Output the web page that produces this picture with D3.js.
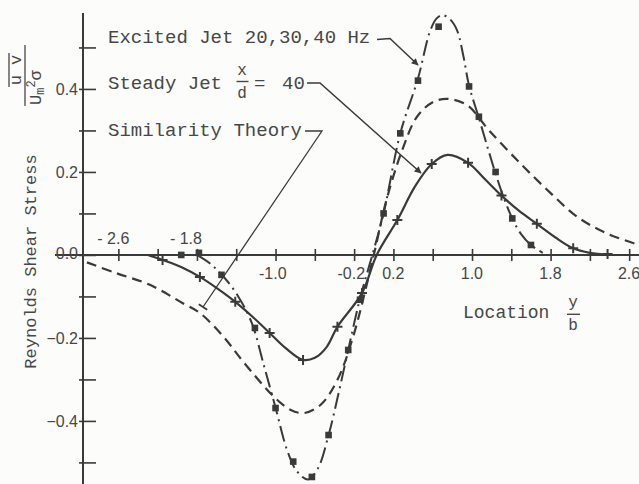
<!DOCTYPE html>
<html>
<head>
<meta charset="utf-8">
<script src="https://cdn.jsdelivr.net/npm/d3@7"></script>
<style>
  html, body { margin: 0; padding: 0; background: #fcfcfa; }
  svg { display: block; }
</style>
</head>
<body>
<svg id="chart" width="639" height="484"></svg>
<script>
// Similarity theory profile (dashed line)
const similarityCurve = [
  [-2.92, -0.018], [-2.62, -0.044], [-2.28, -0.072], [-1.94, -0.117], [-1.77, -0.140],
  [-1.53, -0.197], [-1.33, -0.257], [-1.02, -0.341], [-0.85, -0.373], [-0.71, -0.381],
  [-0.54, -0.361], [-0.37, -0.301], [-0.21, -0.197], [0.00, 0.000], [0.13, 0.133],
  [0.29, 0.253], [0.44, 0.333], [0.60, 0.368], [0.75, 0.376], [0.95, 0.361],
  [1.17, 0.301], [1.49, 0.221], [1.80, 0.149], [2.07, 0.092], [2.37, 0.052], [2.70, 0.024]
];

// Steady jet, x/d = 40: faired line and measured points
const steadyCurve = [
  [-2.30, 0.000], [-2.15, -0.012], [-1.95, -0.030], [-1.77, -0.053], [-1.58, -0.083],
  [-1.41, -0.113], [-1.22, -0.152], [-1.06, -0.188], [-0.90, -0.224], [-0.72, -0.253],
  [-0.60, -0.248], [-0.48, -0.222], [-0.37, -0.173], [-0.12, -0.092], [0.03, 0.000],
  [0.24, 0.084], [0.42, 0.165], [0.59, 0.219], [0.75, 0.241], [0.96, 0.222],
  [1.13, 0.183], [1.30, 0.143], [1.48, 0.106], [1.66, 0.075], [1.85, 0.042],
  [2.03, 0.016], [2.20, 0.005], [2.39, 0.000]
];
const steadyPoints = [
  [-2.15, -0.012], [-1.77, -0.053], [-1.41, -0.113], [-1.06, -0.188], [-0.72, -0.253],
  [-0.37, -0.173], [-0.12, -0.092], [0.24, 0.084], [0.59, 0.219], [0.96, 0.222],
  [1.30, 0.143], [1.66, 0.075], [2.03, 0.016], [2.38, 0.002]
];

// Excited jet 20, 30, 40 Hz: faired line and measured points
const excitedCurve = [
  [-1.80, 0.000], [-1.66, -0.022], [-1.52, -0.055], [-1.38, -0.100], [-1.24, -0.165],
  [-1.12, -0.265], [-1.00, -0.368], [-0.88, -0.472], [-0.78, -0.522], [-0.67, -0.541],
  [-0.57, -0.515], [-0.46, -0.434], [-0.36, -0.335], [-0.26, -0.229], [-0.14, -0.105],
  [0.00, 0.012], [0.10, 0.100], [0.27, 0.293], [0.45, 0.425], [0.57, 0.537],
  [0.64, 0.570], [0.70, 0.578], [0.78, 0.567], [0.85, 0.540], [0.91, 0.482],
  [0.97, 0.408], [1.07, 0.330], [1.17, 0.250], [1.24, 0.196], [1.32, 0.140],
  [1.41, 0.088], [1.50, 0.050], [1.60, 0.024], [1.72, 0.005]
];
const excitedPoints = [
  [-1.96, 0.000], [-1.78, 0.005], [-1.55, -0.048], [-1.21, -0.176], [-1.00, -0.369],
  [-0.82, -0.498], [-0.63, -0.535], [-0.46, -0.434], [-0.26, -0.229], [-0.14, -0.108],
  [0.10, 0.100], [0.27, 0.293], [0.45, 0.420], [0.66, 0.550], [0.97, 0.406],
  [1.07, 0.333], [1.24, 0.200], [1.41, 0.088], [1.60, 0.024]
];

// Axis ticks and labels
const xTickValues = [-2.6, -2.2, -1.8, -1.4, -1.0, -0.6, -0.2, 0.2, 0.6, 1.0, 1.4, 1.8, 2.2, 2.6];
const xLabelsAbove = [-2.6, -1.8];
const xLabelsBelow = [-1.0, -0.2, 0.2, 1.0, 1.8, 2.6];
const yTickValues = [-0.5, -0.4, -0.3, -0.2, -0.1, 0.0, 0.1, 0.2, 0.3, 0.4, 0.5];
const yLabelValues = [-0.4, -0.2, 0.0, 0.2, 0.4];

const ink = "#3a3a3a";
const textInk = "#474747";
const mono = "'Liberation Mono', 'Courier New', monospace";
const sans = "'Liberation Sans', Arial, sans-serif";

const svg = d3.select("#chart");

const x = d3.scaleLinear().domain([-2.96, 2.70]).range([83, 639]);
const y = d3.scaleLinear().domain([-0.552, 0.583]).range([484, 13]);
const x0 = x.range()[0];
const yZero = y(0);

// arrowhead for leader lines
svg.append("defs").append("marker")
  .attr("id", "arrow")
  .attr("viewBox", "0 0 10 10")
  .attr("refX", 9).attr("refY", 5)
  .attr("markerWidth", 9).attr("markerHeight", 7)
  .attr("markerUnits", "userSpaceOnUse")
  .attr("orient", "auto")
  .append("path").attr("d", "M0,0 L10,5 L0,10 Z").attr("fill", ink);

// ---- axes ----
// horizontal zero line
svg.append("line")
  .attr("x1", 55).attr("x2", x.range()[1])
  .attr("y1", yZero).attr("y2", yZero)
  .attr("stroke", ink).attr("stroke-width", 2);

// vertical axis line
svg.append("line")
  .attr("x1", x0).attr("x2", x0)
  .attr("y1", y.range()[1]).attr("y2", y.range()[0])
  .attr("stroke", ink).attr("stroke-width", 2);

// x ticks crossing the zero line
svg.append("g")
  .attr("transform", `translate(0,${yZero - 6})`)
  .call(d3.axisBottom(x).tickValues(xTickValues).tickSize(12).tickFormat(""))
  .call(g => g.select(".domain").remove())
  .selectAll("line").attr("stroke", ink).attr("stroke-width", 1.6);

// y ticks
svg.append("g")
  .attr("transform", `translate(${x0 - 4},0)`)
  .call(d3.axisRight(y).tickValues(yTickValues).tickSize(17).tickFormat(""))
  .call(g => g.select(".domain").remove())
  .selectAll("line").attr("stroke", ink).attr("stroke-width", 1.6);

// y labels
const yFmt = d => (d < 0 ? "\u2212" : "") + Math.abs(d).toFixed(1);
svg.append("g")
  .attr("transform", `translate(78,0)`)
  .call(d3.axisLeft(y).tickValues(yLabelValues).tickSize(0).tickPadding(0).tickFormat(yFmt))
  .call(g => g.select(".domain").remove())
  .call(g => g.selectAll("text")
    .attr("fill", textInk)
    .style("font-family", sans).style("font-size", "16px")
    .attr("dy", d => d === 0 ? "0.22em" : "0.35em"));

// x labels: magnitude centred on the tick, sign hanging to the left
const xNum = 11;
svg.append("g").selectAll("text")
  .data(xLabelsAbove).join("text")
  .attr("x", d => x(d) + xNum - (d === -1.8 ? 6 : 0)).attr("y", yZero - 11)
  .attr("text-anchor", "end")
  .attr("fill", textInk)
  .style("font-family", sans).style("font-size", "16px")
  .text(d => "- " + Math.abs(d).toFixed(1));
svg.append("g").selectAll("text")
  .data(xLabelsBelow).join("text")
  .attr("x", d => x(d) + xNum).attr("y", yZero + 24)
  .attr("text-anchor", "end")
  .attr("fill", textInk)
  .style("font-family", sans).style("font-size", "16px")
  .text(d => (d < 0 ? "-" : "") + Math.abs(d).toFixed(1));

// ---- curves ----
const line = d3.line()
  .x(d => x(d[0])).y(d => y(d[1]))
  .curve(d3.curveCatmullRom.alpha(0.5));

svg.append("path").datum(similarityCurve)
  .attr("d", line).attr("fill", "none")
  .attr("stroke", ink).attr("stroke-width", 2.2)
  .attr("stroke-dasharray", "10,6");

svg.append("path").datum(steadyCurve)
  .attr("d", line).attr("fill", "none")
  .attr("stroke", ink).attr("stroke-width", 2.2);

svg.append("path").datum(excitedCurve)
  .attr("d", line).attr("fill", "none")
  .attr("stroke", ink).attr("stroke-width", 2)
  .attr("stroke-dasharray", "16,5,2,5");

// steady jet points: plus signs
svg.append("g").selectAll("path")
  .data(steadyPoints).join("path")
  .attr("transform", d => `translate(${x(d[0])},${y(d[1])})`)
  .attr("d", "M-5,0H5M0,-5V5")
  .attr("stroke", ink).attr("stroke-width", 2).attr("fill", "none");

// excited jet points: filled squares
svg.append("g").selectAll("rect")
  .data(excitedPoints).join("rect")
  .attr("x", d => x(d[0]) - 3.3).attr("y", d => y(d[1]) - 3.3)
  .attr("width", 6.6).attr("height", 6.6)
  .attr("fill", ink);

// ---- legend labels with leader lines ----
const legend = svg.append("g")
  .attr("fill", textInk)
  .style("font-family", mono);

legend.append("text").attr("x", 108).attr("y", 43)
  .style("font-size", "19px").text("Excited Jet 20,30,40 Hz");
legend.append("text").attr("x", 108).attr("y", 89)
  .style("font-size", "19px").text("Steady Jet");
legend.append("text").attr("x", 242).attr("y", 75).attr("text-anchor", "middle")
  .style("font-size", "16px").text("x");
legend.append("line").attr("x1", 236.5).attr("x2", 248.5).attr("y1", 81.5).attr("y2", 81.5)
  .attr("stroke", textInk).attr("stroke-width", 1.4);
legend.append("text").attr("x", 242).attr("y", 98).attr("text-anchor", "middle")
  .style("font-size", "16px").text("d");
legend.append("text").attr("x", 254).attr("y", 89)
  .style("font-size", "19px").text("=");
legend.append("text").attr("x", 282).attr("y", 89)
  .style("font-size", "19px").text("40");
legend.append("text").attr("x", 108).attr("y", 136)
  .style("font-size", "19px").text("Similarity Theory");

const leader = d3.line();
svg.append("path")
  .attr("d", leader([[377, 39.5], [390, 38.5], [418, 65]]))
  .attr("fill", "none").attr("stroke", ink).attr("stroke-width", 1.5)
  .attr("marker-end", "url(#arrow)");
svg.append("path")
  .attr("d", leader([[307, 83], [320, 83], [421, 173]]))
  .attr("fill", "none").attr("stroke", ink).attr("stroke-width", 1.5)
  .attr("marker-end", "url(#arrow)");
svg.append("path")
  .attr("d", leader([[305, 131], [322, 131], [203, 307]]))
  .attr("fill", "none").attr("stroke", ink).attr("stroke-width", 1.3);
svg.append("line")
  .attr("x1", 198.8).attr("y1", 304.2).attr("x2", 207.2).attr("y2", 309.8)
  .attr("stroke", ink).attr("stroke-width", 1.8);

// ---- axis titles ----
const xt = svg.append("g").attr("fill", textInk).style("font-family", mono);
xt.append("text").attr("x", 463).attr("y", 318).style("font-size", "18px").text("Location");
xt.append("text").attr("x", 573).attr("y", 307).attr("text-anchor", "middle")
  .style("font-size", "16px").text("y");
xt.append("line").attr("x1", 567).attr("x2", 580).attr("y1", 314.3).attr("y2", 314.3)
  .attr("stroke", textInk).attr("stroke-width", 1.4);
xt.append("text").attr("x", 573).attr("y", 330).attr("text-anchor", "middle")
  .style("font-size", "16px").text("b");

// vertical title: local (lx, ly) maps to page (ly, -lx)
const yt = svg.append("g").attr("transform", "rotate(-90)")
  .attr("fill", textInk).style("font-family", mono);
yt.append("text").attr("x", -261.5).attr("y", 36).attr("text-anchor", "middle")
  .style("font-size", "17px").text("Reynolds Shear Stress");
yt.append("text").attr("x", -70).attr("y", 21).attr("text-anchor", "middle")
  .style("font-size", "17px").text("u v");
yt.append("line").attr("x1", -87).attr("x2", -53).attr("y1", 9).attr("y2", 9)
  .attr("stroke", textInk).attr("stroke-width", 1.3);
yt.append("line").attr("x1", -106).attr("x2", -45).attr("y1", 25).attr("y2", 25)
  .attr("stroke", textInk).attr("stroke-width", 1.3);
const den = yt.append("text").attr("x", -105).attr("y", 41).style("font-size", "17px");
den.append("tspan").text("U");
den.append("tspan").attr("dy", 3).style("font-size", "12px").text("m");
den.append("tspan").attr("dy", -9).style("font-size", "12px").text("2");
den.append("tspan").attr("dy", 6).style("font-size", "17px").text("\u03c3");
</script>
</body>
</html>
